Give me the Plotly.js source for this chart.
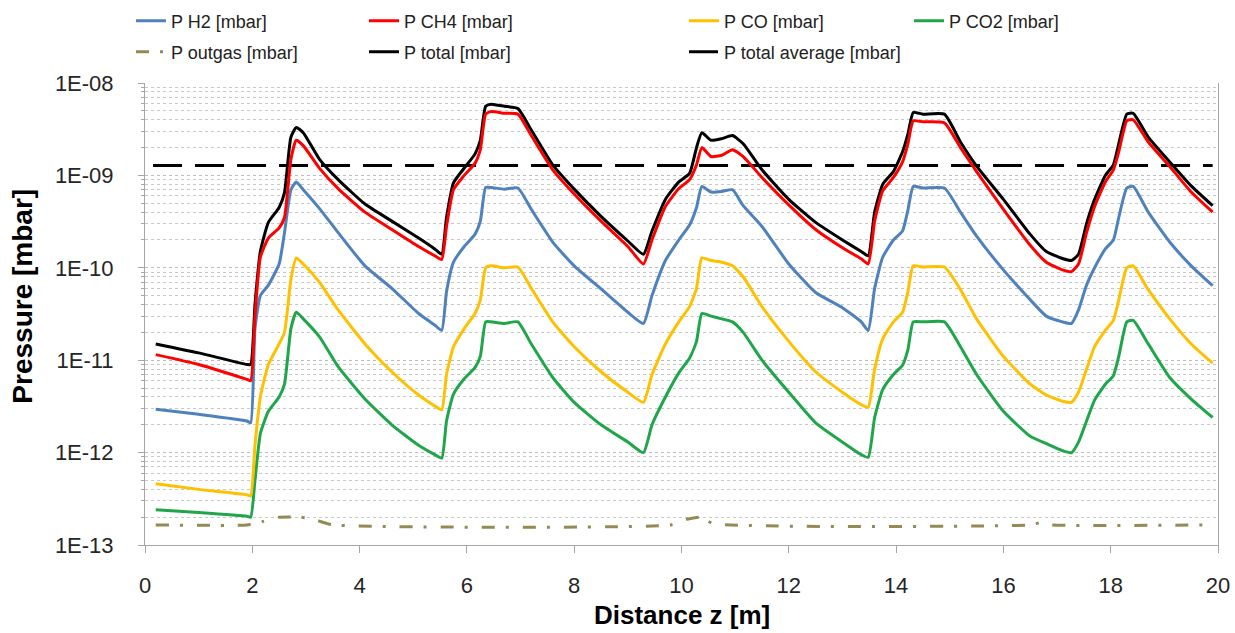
<!DOCTYPE html>
<html>
<head>
<meta charset="utf-8">
<script src="https://cdn.plot.ly/plotly-3.0.1.min.js"></script>
<style>html,body{margin:0;padding:0;background:#fff}#chart{width:1235px;height:633px}</style>
</head>
<body>
<div id="chart"></div>
<script>
// Distance z [m]
const z = [0.2, 1.0, 1.9, 1.97, 2.05, 2.15, 2.3, 2.5, 2.6, 2.72, 2.82, 2.95, 3.25, 3.6, 4.1, 4.6, 5.1, 5.4, 5.53,
  5.62, 5.75, 5.95, 6.15, 6.25, 6.35, 6.45, 6.7, 6.95, 7.2, 7.6, 8.0, 8.5, 9.0, 9.29,
  9.45, 9.7, 9.95, 10.15, 10.28, 10.38, 10.55, 10.75, 10.95, 11.15, 11.5, 12.0, 12.5, 13.0, 13.35, 13.48,
  13.6, 13.75, 13.95, 14.12, 14.22, 14.32, 14.5, 14.9, 15.2, 15.5, 16.0, 16.5, 16.8, 17.1, 17.27, 17.4,
  17.55, 17.7, 17.9, 18.05, 18.15, 18.3, 18.42, 18.7, 19.1, 19.5, 19.9];

const pTotal = [1.5e-11, 1.2e-11, 9.0e-12, 9.0e-12, 4e-11, 1.5e-10, 3.1e-10, 4.5e-10, 6.5e-10, 2.6e-9, 3.3e-9, 2.9e-9, 1.5e-9, 9.0e-10, 4.9e-10, 3.2e-10, 2.1e-10, 1.6e-10, 1.4e-10,
  3.5e-10, 8.3e-10, 1.2e-9, 1.7e-9, 2.4e-9, 5.6e-9, 5.9e-9, 5.6e-9, 5.3e-9, 3.1e-9, 1.3e-9, 7.1e-10, 3.6e-10, 1.95e-10, 1.4e-10,
  2.5e-10, 5.5e-10, 8.5e-10, 1.05e-9, 2.0e-9, 2.9e-9, 2.4e-9, 2.5e-9, 2.7e-9, 2.2e-9, 1.15e-9, 5.5e-10, 3.1e-10, 2.0e-10, 1.5e-10, 1.35e-10,
  4.0e-10, 8.0e-10, 1.1e-9, 1.8e-9, 2.8e-9, 4.8e-9, 4.6e-9, 4.6e-9, 2.3e-9, 1.26e-9, 5.5e-10, 2.3e-10, 1.5e-10, 1.26e-10, 1.2e-10, 1.4e-10,
  3.0e-10, 5.5e-10, 1.0e-9, 1.3e-9, 2.2e-9, 4.6e-9, 4.7e-9, 2.6e-9, 1.4e-9, 7.7e-10, 4.7e-10];

const pCH4 = [1.15e-11, 9.0e-12, 6.2e-12, 6.0e-12, 3e-11, 1.3e-10, 2.1e-10, 2.7e-10, 3.5e-10, 1.5e-9, 2.4e-9, 2.1e-9, 1.2e-9, 7.2e-10, 4.0e-10, 2.6e-10, 1.7e-10, 1.35e-10, 1.23e-10,
  2.8e-10, 7.0e-10, 1.0e-9, 1.35e-9, 1.9e-9, 4.6e-9, 4.9e-9, 4.7e-9, 4.6e-9, 2.7e-9, 1.15e-9, 6.3e-10, 3.2e-10, 1.7e-10, 1.1e-10,
  2.0e-10, 4.6e-10, 7.2e-10, 9.0e-10, 1.3e-9, 2.0e-9, 1.6e-9, 1.65e-9, 1.9e-9, 1.6e-9, 9.5e-10, 4.8e-10, 2.6e-10, 1.65e-10, 1.25e-10, 1.1e-10,
  3.2e-10, 6.8e-10, 9.5e-10, 1.4e-9, 2.2e-9, 3.9e-9, 3.8e-9, 3.7e-9, 2.0e-9, 1.1e-9, 4.3e-10, 1.75e-10, 1.15e-10, 9.5e-11, 9.1e-11, 1.1e-10,
  2.4e-10, 4.6e-10, 8.5e-10, 1.15e-9, 1.8e-9, 3.9e-9, 4.0e-9, 2.3e-9, 1.25e-9, 6.6e-10, 4.0e-10];

const pH2 = [2.95e-12, 2.6e-12, 2.2e-12, 2.1e-12, 2.2e-11, 5.0e-11, 6.5e-11, 1.1e-10, 2.4e-10, 7.0e-10, 8.5e-10, 7.0e-10, 4.4e-10, 2.4e-10, 1.05e-10, 6.0e-11, 3.2e-11, 2.4e-11, 2.1e-11,
  5.5e-11, 1.15e-10, 1.7e-10, 2.3e-10, 3.2e-10, 7.4e-10, 7.4e-10, 7.1e-10, 7.3e-10, 4.3e-10, 1.9e-10, 1.05e-10, 5.9e-11, 3.3e-11, 2.5e-11,
  5.0e-11, 1.2e-10, 2.0e-10, 2.9e-10, 4.5e-10, 7.6e-10, 6.6e-10, 6.7e-10, 7.0e-10, 4.7e-10, 2.8e-10, 1.1e-10, 5.4e-11, 3.7e-11, 2.6e-11, 2.1e-11,
  6.0e-11, 1.3e-10, 2.0e-10, 2.5e-10, 4.2e-10, 7.6e-10, 7.3e-10, 7.3e-10, 4.0e-10, 2.2e-10, 9.5e-11, 4.5e-11, 3.0e-11, 2.6e-11, 2.5e-11, 3.5e-11,
  6.5e-11, 1.0e-10, 1.6e-10, 2.0e-10, 3.5e-10, 7.3e-10, 7.6e-10, 4.0e-10, 1.9e-10, 1.05e-10, 6.4e-11];

const pCO = [4.6e-13, 4.0e-13, 3.5e-13, 3.4e-13, 1.2e-12, 4.0e-12, 9.0e-12, 1.5e-11, 2.0e-11, 7.5e-11, 1.28e-10, 1.1e-10, 7.0e-11, 3.5e-11, 1.5e-11, 7.5e-12, 4.2e-12, 3.2e-12, 2.9e-12,
  7.0e-12, 1.4e-11, 2.2e-11, 3.2e-11, 4.5e-11, 1.0e-10, 1.05e-10, 1.0e-10, 1.02e-10, 6.0e-11, 2.6e-11, 1.4e-11, 7.5e-12, 4.5e-12, 3.5e-12,
  7.0e-12, 1.5e-11, 2.6e-11, 3.8e-11, 6.0e-11, 1.28e-10, 1.2e-10, 1.15e-10, 1.05e-10, 8.0e-11, 3.8e-11, 1.6e-11, 7.5e-12, 4.5e-12, 3.3e-12, 3.1e-12,
  8.0e-12, 1.7e-11, 2.6e-11, 3.3e-11, 5.5e-11, 1.05e-10, 1.02e-10, 1.02e-10, 5.8e-11, 2.8e-11, 1.1e-11, 5.5e-12, 4.2e-12, 3.6e-12, 3.5e-12, 4.5e-12,
  8.0e-12, 1.4e-11, 2.1e-11, 2.7e-11, 4.5e-11, 1.0e-10, 1.05e-10, 5.8e-11, 2.8e-11, 1.5e-11, 9.3e-12];

const pCO2 = [2.4e-13, 2.25e-13, 2.05e-13, 2.0e-13, 5e-13, 1.6e-12, 2.8e-12, 4.0e-12, 5.5e-12, 2.2e-11, 3.3e-11, 2.8e-11, 1.8e-11, 8.5e-12, 3.8e-12, 2.0e-12, 1.2e-12, 9.5e-13, 8.7e-13,
  2.2e-12, 4.3e-12, 6.3e-12, 8.3e-12, 1.1e-11, 2.6e-11, 2.6e-11, 2.5e-11, 2.6e-11, 1.5e-11, 6.5e-12, 3.5e-12, 2.0e-12, 1.3e-12, 1.0e-12,
  2.0e-12, 4.0e-12, 7.3e-12, 1.05e-11, 1.6e-11, 3.2e-11, 3.0e-11, 2.8e-11, 2.6e-11, 2.0e-11, 1.0e-11, 4.5e-12, 2.1e-12, 1.3e-12, 9.5e-13, 8.9e-13,
  2.4e-12, 4.8e-12, 7.0e-12, 8.8e-12, 1.3e-11, 2.6e-11, 2.6e-11, 2.6e-11, 1.4e-11, 7.0e-12, 2.8e-12, 1.5e-12, 1.25e-12, 1.05e-12, 1.0e-12, 1.3e-12,
  2.2e-12, 3.7e-12, 5.5e-12, 6.8e-12, 1.1e-11, 2.6e-11, 2.7e-11, 1.5e-11, 6.5e-12, 3.8e-12, 2.4e-12];

const zOutgas = [0.2, 1.9, 2.2, 2.5, 2.9, 3.2, 3.5, 9.8, 10.1, 10.35, 10.6, 16.5, 16.7, 16.9, 19.9];
const pOutgas = [1.65e-13, 1.65e-13, 1.8e-13, 2.0e-13, 2.0e-13, 1.85e-13, 1.65e-13, 1.65e-13, 1.9e-13, 2.0e-13, 1.7e-13, 1.65e-13, 1.75e-13, 1.65e-13, 1.65e-13];

const zAverage = [0.15, 19.9];
const pAverage = [1.28e-9, 1.28e-9];

const yTickVals = [1e-13, 1e-12, 1e-11, 1e-10, 1e-9, 1e-8];
const yTickText = ['1E-13', '1E-12', '1E-11', '1E-10', '1E-09', '1E-08'];

const names = ['P H2 [mbar]', 'P CH4 [mbar]', 'P CO [mbar]', 'P CO2 [mbar]', 'P outgas [mbar]', 'P total [mbar]', 'P total average [mbar]'];

const minorVals = [];
for (let e = -13; e < -8; e++) for (let d = 2; d <= 9; d++) minorVals.push(d * Math.pow(10, e));

const FONT = 'Liberation Sans, Arial, sans-serif';
const SMOOTH = {shape: 'spline', smoothing: 0.5};

const traces = [
  {x: zOutgas, y: pOutgas, name: names[4], legend: 'legend5', line: Object.assign({color: '#948A54', width: 3, dash: '13px,11px,3px,14px'}, SMOOTH)},
  {x: zAverage, y: pAverage, name: names[6], legend: 'legend7', line: {color: '#000000', width: 3, dash: '29px,13px'}},
  {x: z, y: pCO2, name: names[3], legend: 'legend4', line: Object.assign({color: '#1FA64A', width: 3}, SMOOTH)},
  {x: z, y: pCO, name: names[2], legend: 'legend3', line: Object.assign({color: '#FFC000', width: 3}, SMOOTH)},
  {x: z, y: pH2, name: names[0], legend: 'legend', line: Object.assign({color: '#4F81BD', width: 3}, SMOOTH)},
  {x: z, y: pTotal, name: names[5], legend: 'legend6', line: Object.assign({color: '#000000', width: 3}, SMOOTH)},
  {x: z, y: pCH4, name: names[1], legend: 'legend2', line: Object.assign({color: '#FF0000', width: 3}, SMOOTH)}
].map(t => Object.assign({type: 'scatter', mode: 'lines', hoverinfo: 'skip'}, t));

function leg(xpx, ypx) {
  return {xref: 'container', yref: 'container', x: xpx / 1235, y: 1 - ypx / 633, xanchor: 'left', yanchor: 'middle',
    bgcolor: 'rgba(0,0,0,0)', borderwidth: 0, font: {family: FONT, size: 18, color: '#222'}};
}

const layout = {
  width: 1235, height: 633,
  margin: {l: 145, r: 17, t: 83, b: 88, autoexpand: false},
  paper_bgcolor: '#fff', plot_bgcolor: '#fff',
  showlegend: true,
  legend: leg(131, 21), legend5: leg(131, 52),
  legend2: leg(364, 21), legend6: leg(364, 52),
  legend3: leg(684, 21), legend7: leg(684, 52),
  legend4: leg(909, 21),
  xaxis: {
    range: [0, 20], dtick: 2, tick0: 0, showgrid: false, zeroline: false, automargin: false,
    showline: true, linecolor: '#A6A6A6', linewidth: 1,
    ticks: 'outside', ticklen: 7, tickcolor: '#A6A6A6',
    ticklabelstandoff: 14,
    tickfont: {family: FONT, size: 22, color: '#262626'}
  },
  yaxis: {
    type: 'log', range: [-13, -8], automargin: false,
    tickvals: yTickVals, ticktext: yTickText,
    showgrid: true, gridcolor: '#BDBDBD', griddash: 'dot', gridwidth: 1,
    zeroline: false, showline: true, mirror: true, linecolor: '#A6A6A6', linewidth: 1,
    ticks: 'outside', ticklen: 6, tickcolor: '#A6A6A6',
    ticklabelstandoff: 20,
    tickfont: {family: FONT, size: 22, color: '#262626'},
    minor: {tickmode: 'array', tickvals: minorVals, showgrid: true, gridcolor: '#C8C8C8', griddash: 'dot', gridwidth: 1,
      ticks: 'outside', ticklen: 3, tickcolor: '#A6A6A6'}
  },
  annotations: [
    {text: '<b>Pressure [mbar]</b>', xref: 'paper', yref: 'paper', x: -0.114, y: 0.539, textangle: -90,
      showarrow: false, xanchor: 'center', yanchor: 'middle', font: {family: FONT, size: 28, color: '#000'}},
    {text: '<b>Distance z [m]</b>', xref: 'paper', yref: 'paper', x: 0.5, y: -0.1515,
      showarrow: false, xanchor: 'center', yanchor: 'middle', font: {family: FONT, size: 26, color: '#000'}}
  ]
};

Plotly.newPlot('chart', traces, layout, {displayModeBar: false, staticPlot: true});
</script>
</body>
</html>
